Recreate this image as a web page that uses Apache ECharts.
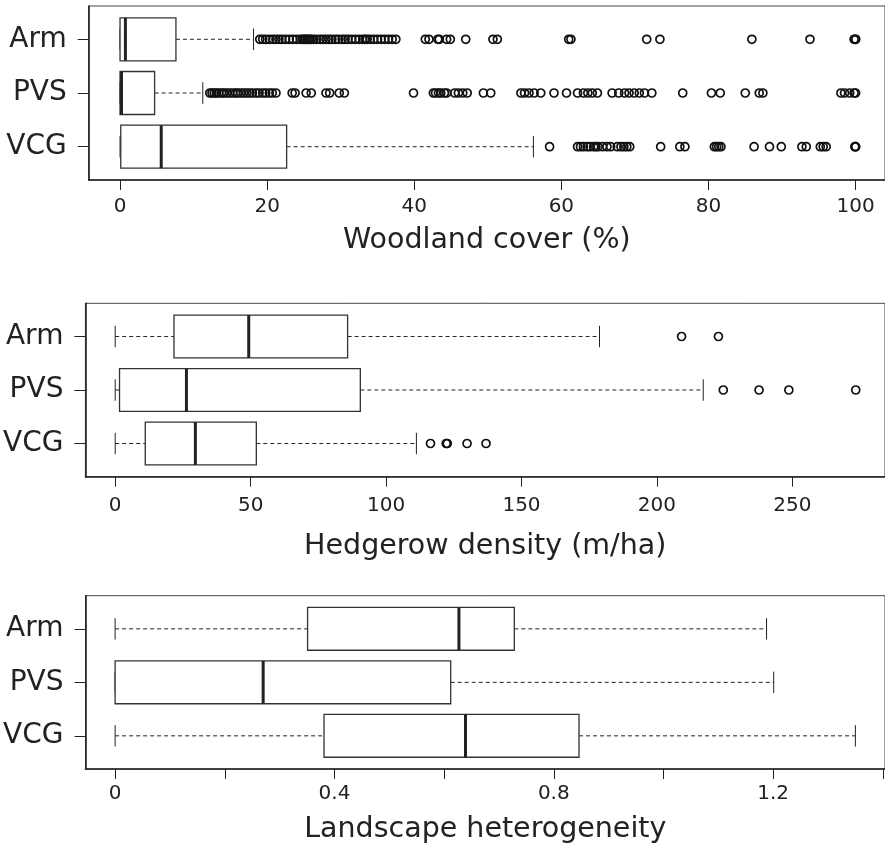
<!DOCTYPE html>
<html>
<head>
<meta charset="utf-8">
<script src="https://cdn.jsdelivr.net/npm/echarts@6/dist/echarts.min.js"></script>
<style>
  html, body { margin: 0; padding: 0; background: #fff; }
  #main { width: 885px; height: 845px; }
</style>
</head>
<body>
<div id="main"></div>
<script>
// groups, top to bottom
const groups = ['Arm', 'PVS', 'VCG'];

// box stats per group: [lower whisker, Q1, median, Q3, upper whisker]
const woodlandStats = [[0, 0, 0.73, 7.6, 18.15], [0, 0, 0.2, 4.7, 11.25], [0, 0.1, 5.6, 22.65, 56.2]];
const hedgerowStats = [[0, 21.7, 49.3, 85.8, 178.8], [0, 1.6, 26.3, 90.5, 217.1], [0, 11.1, 29.6, 52.1, 111.2]];
const heteroStats = [[0, 0.351, 0.627, 0.728, 1.188], [0, 0, 0.27, 0.612, 1.201], [0, 0.381, 0.639, 0.846, 1.35]];

// outliers
const woodArmOut = [19.0, 19.4, 19.8, 20.3, 20.8, 21.2, 21.6, 22.0, 22.5, 23.0, 23.5, 24.0, 24.5, 24.8, 25.0, 25.2, 25.4,
  25.6, 25.8, 26.0, 26.3, 26.7, 27.2, 27.6, 28.0, 28.4, 28.8, 29.3, 29.7, 30.2, 30.6, 31.0, 31.5, 32.0, 32.5, 33.0,
  33.3, 33.6, 34.0, 34.5, 35.0, 35.5, 36.0, 36.5, 37.0, 37.5, 41.5, 42.0, 43.2, 43.4, 44.4, 44.9, 47.0, 50.7, 51.3,
  61.0, 61.3, 71.6, 73.4, 85.9, 93.8, 99.8, 100, 100];
const woodPvsOut = [12.2, 12.5, 12.8, 13.1, 13.4, 13.8, 14.1, 14.5, 14.9, 15.3, 15.7, 16.0, 16.4, 16.8, 17.2, 17.6,
  18.0, 18.5, 18.9, 19.4, 19.8, 20.3, 20.7, 21.2, 23.4, 23.8, 25.3, 26.0, 28.0, 28.5, 29.8, 30.5, 39.9, 42.6, 42.9,
  43.3, 43.6, 44.1, 44.4, 45.5, 46.0, 46.6, 47.2, 49.4, 50.4, 54.5, 55.0, 55.6, 56.3, 57.2, 59.0, 60.7, 62.2, 63.0,
  63.6, 64.2, 64.9, 66.9, 67.8, 68.6, 69.2, 69.9, 70.6, 71.3, 72.3, 76.5, 80.4, 81.6, 85.0, 86.9, 87.4, 98.0, 98.5,
  99.2, 99.8, 100];
const woodVcgOut = [58.4, 62.2, 62.6, 63.0, 63.5, 63.9, 64.4, 64.7, 65.0, 65.6, 66.2, 66.7, 67.6, 68.1, 68.5, 68.9,
  69.3, 73.5, 76.1, 76.8, 80.8, 81.1, 81.4, 81.7, 86.2, 88.3, 89.9, 92.7, 93.3, 95.2, 95.6, 96.0, 99.9, 100, 100];
const hedgeArmOut = [209.1, 222.7];
const hedgePvsOut = [224.5, 237.7, 248.7, 273.4];
const hedgeVcgOut = [116.4, 122.2, 122.6, 129.9, 136.9];

// tick values
const woodTicks = [0, 20, 40, 60, 80, 100];
const hedgeTicks = [0, 50, 100, 150, 200, 250];
const heteroTicks = [0, 0.2, 0.4, 0.6, 0.8, 1.0, 1.2, 1.4];
const heteroLabels = [0, 0.4, 0.8, 1.2];

const ink = '#222';
const font = 'DejaVu Sans';

function renderBox(params, api) {
  const y = api.value(0);
  const lo = api.coord([api.value(1), y]);
  const q1 = api.coord([api.value(2), y]);
  const md = api.coord([api.value(3), y]);
  const q3 = api.coord([api.value(4), y]);
  const hi = api.coord([api.value(5), y]);
  const h = api.size([0, 0.8])[1];
  const cap = h / 2;
  const cy = lo[1];
  const dash = { stroke: ink, lineWidth: 1, lineDash: [4, 3] };
  const solid = { stroke: ink, lineWidth: 1 };
  return {
    type: 'group',
    children: [
      { type: 'line', shape: { x1: lo[0], y1: cy, x2: q1[0], y2: cy }, style: dash },
      { type: 'line', shape: { x1: q3[0], y1: cy, x2: hi[0], y2: cy }, style: dash },
      { type: 'line', shape: { x1: lo[0], y1: cy - cap / 2, x2: lo[0], y2: cy + cap / 2 }, style: solid },
      { type: 'line', shape: { x1: hi[0], y1: cy - cap / 2, x2: hi[0], y2: cy + cap / 2 }, style: solid },
      { type: 'rect', shape: { x: q1[0], y: cy - h / 2, width: q3[0] - q1[0], height: h },
        style: { fill: '#fff', stroke: '#333', lineWidth: 1.3 } },
      { type: 'line', shape: { x1: md[0], y1: cy - h / 2, x2: md[0], y2: cy + h / 2 },
        style: { stroke: ink, lineWidth: 3 } }
    ]
  };
}

const panels = [
  { left: 88.7, top: 6, width: 803.3, height: 174, min: -4.26, max: 104.0, ticks: woodTicks, labels: woodTicks,
    labelGap: 17, nameGap: 46,
    name: 'Woodland cover (%)', stats: woodlandStats, out: [woodArmOut, woodPvsOut, woodVcgOut] },
  { left: 85, top: 303.3, width: 805, height: 173.4, min: -11.0, max: 284.2, ticks: hedgeTicks, labels: hedgeTicks,
    labelGap: 19, nameGap: 55,
    name: 'Hedgerow density (m/ha)', stats: hedgerowStats, out: [hedgeArmOut, hedgePvsOut, hedgeVcgOut] },
  { left: 85.5, top: 595.7, width: 805.5, height: 174.3, min: -0.054, max: 1.404, ticks: heteroTicks, labels: heteroLabels,
    labelGap: 15, nameGap: 46,
    name: 'Landscape heterogeneity', stats: heteroStats, out: [[], [], []] }
];

const option = { animation: false, grid: [], xAxis: [], yAxis: [], series: [] };

panels.forEach((p, i) => {
  option.grid.push({ left: p.left, top: p.top, width: p.width, height: p.height,
    show: true, borderColor: '#444', borderWidth: 1, backgroundColor: 'transparent' });
  option.xAxis.push({
    type: 'value', gridIndex: i, min: p.min, max: p.max,
    name: p.name, nameLocation: 'middle', nameGap: p.nameGap,
    nameTextStyle: { fontFamily: font, fontSize: 28.5, color: ink },
    axisLine: { show: true, onZero: false, lineStyle: { color: ink, width: 1.6 } },
    axisTick: { show: true, length: 10, lineStyle: { color: ink, width: 1 }, customValues: p.ticks },
    axisLabel: { fontFamily: font, fontSize: 20, color: ink, margin: p.labelGap, customValues: p.labels,
      formatter: v => String(v) },
    splitLine: { show: false }
  });
  option.yAxis.push({
    type: 'value', gridIndex: i, min: 0.38, max: 3.62, inverse: true,
    axisLine: { show: true, onZero: false, lineStyle: { color: ink, width: 1.6 } },
    axisTick: { show: true, length: 11, lineStyle: { color: ink, width: 1 }, customValues: [1, 2, 3] },
    axisLabel: { fontFamily: font, fontSize: 28, color: ink, margin: 22, customValues: [1, 2, 3],
      formatter: v => groups[Math.round(v) - 1] || '' },
    splitLine: { show: false }
  });
  option.series.push({
    type: 'custom', xAxisIndex: i, yAxisIndex: i,
    renderItem: renderBox,
    encode: { x: [1, 2, 3, 4, 5], y: 0 },
    data: p.stats.map((s, k) => [k + 1].concat(s)),
    z: 2
  });
  const pts = [];
  p.out.forEach((arr, k) => arr.forEach(v => pts.push([v, k + 1])));
  option.series.push({
    type: 'scatter', xAxisIndex: i, yAxisIndex: i,
    symbol: 'circle', symbolSize: 8,
    itemStyle: { color: 'transparent', borderColor: '#111', borderWidth: 1.7, opacity: 1 },
    data: pts,
    z: 3
  });
});

const chart = echarts.init(document.getElementById('main'), null, { renderer: 'canvas' });
chart.setOption(option);
</script>
</body>
</html>
